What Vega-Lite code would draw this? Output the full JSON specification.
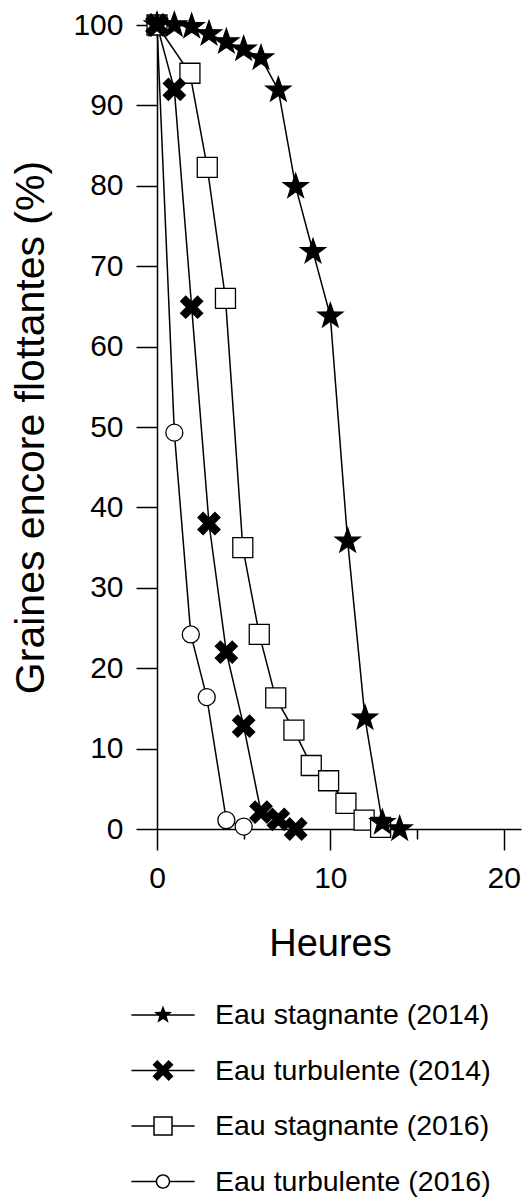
{
  "$schema": "https://vega.github.io/schema/vega-lite/v6.json",
  "autosize": {"type": "none"},
  "padding": {"left": 157, "top": 25, "right": 2, "bottom": 368},
  "width": 364,
  "height": 804,
  "background": "white",
  "config": {
    "view": {"stroke": null},
    "font": "Liberation Sans",
    "axis": {
      "domainColor": "black",
      "domainWidth": 1.5,
      "tickColor": "black",
      "tickWidth": 1.5,
      "labelColor": "black",
      "titleColor": "black",
      "grid": false,
      "labelFont": "Liberation Sans",
      "titleFont": "Liberation Sans",
      "titleFontWeight": "normal",
      "labelFontSize": 30
    }
  },
  "data": {
    "values": [
      {"serie": "Eau turbulente (2016)", "h": 0, "p": 100},
      {"serie": "Eau turbulente (2016)", "h": 1, "p": 49.3},
      {"serie": "Eau turbulente (2016)", "h": 1.95, "p": 24.2},
      {"serie": "Eau turbulente (2016)", "h": 2.87, "p": 16.4},
      {"serie": "Eau turbulente (2016)", "h": 4, "p": 1.1},
      {"serie": "Eau turbulente (2016)", "h": 5, "p": 0.3},
      {"serie": "Eau stagnante (2016)", "h": 0, "p": 100},
      {"serie": "Eau stagnante (2016)", "h": 1.9, "p": 94},
      {"serie": "Eau stagnante (2016)", "h": 2.9, "p": 82.3},
      {"serie": "Eau stagnante (2016)", "h": 3.95, "p": 66},
      {"serie": "Eau stagnante (2016)", "h": 4.95, "p": 35},
      {"serie": "Eau stagnante (2016)", "h": 5.9, "p": 24.2},
      {"serie": "Eau stagnante (2016)", "h": 6.85, "p": 16.3},
      {"serie": "Eau stagnante (2016)", "h": 7.9, "p": 12.3},
      {"serie": "Eau stagnante (2016)", "h": 8.9, "p": 7.9},
      {"serie": "Eau stagnante (2016)", "h": 9.9, "p": 6},
      {"serie": "Eau stagnante (2016)", "h": 10.9, "p": 3.2},
      {"serie": "Eau stagnante (2016)", "h": 11.95, "p": 1.1},
      {"serie": "Eau stagnante (2016)", "h": 12.9, "p": 0.2},
      {"serie": "Eau stagnante (2014)", "h": 0, "p": 100},
      {"serie": "Eau stagnante (2014)", "h": 1, "p": 100},
      {"serie": "Eau stagnante (2014)", "h": 2, "p": 99.8},
      {"serie": "Eau stagnante (2014)", "h": 3, "p": 98.9},
      {"serie": "Eau stagnante (2014)", "h": 4, "p": 97.9},
      {"serie": "Eau stagnante (2014)", "h": 5, "p": 97},
      {"serie": "Eau stagnante (2014)", "h": 6, "p": 95.9},
      {"serie": "Eau stagnante (2014)", "h": 7, "p": 91.9},
      {"serie": "Eau stagnante (2014)", "h": 8, "p": 79.9},
      {"serie": "Eau stagnante (2014)", "h": 9, "p": 71.8},
      {"serie": "Eau stagnante (2014)", "h": 10, "p": 63.8},
      {"serie": "Eau stagnante (2014)", "h": 11, "p": 35.8},
      {"serie": "Eau stagnante (2014)", "h": 12, "p": 13.8},
      {"serie": "Eau stagnante (2014)", "h": 13, "p": 0.8},
      {"serie": "Eau stagnante (2014)", "h": 14, "p": 0},
      {"serie": "Eau turbulente (2014)", "h": 0, "p": 100},
      {"serie": "Eau turbulente (2014)", "h": 1, "p": 92},
      {"serie": "Eau turbulente (2014)", "h": 2, "p": 64.9},
      {"serie": "Eau turbulente (2014)", "h": 3, "p": 38},
      {"serie": "Eau turbulente (2014)", "h": 4, "p": 22},
      {"serie": "Eau turbulente (2014)", "h": 5, "p": 12.8},
      {"serie": "Eau turbulente (2014)", "h": 6, "p": 2.1},
      {"serie": "Eau turbulente (2014)", "h": 7, "p": 1.2},
      {"serie": "Eau turbulente (2014)", "h": 8, "p": 0}
    ]
  },
  "encoding": {
    "x": {
      "field": "h",
      "type": "quantitative",
      "scale": {"domain": [0, 21], "nice": false, "zero": false},
      "axis": {
        "values": [0, 5, 10, 15, 20],
        "labelExpr": "datum.value % 10 === 0 ? datum.label : ''",
        "tickSize": {"condition": {"test": "datum.value % 10 !== 0", "value": 10}, "value": 21},
        "labelPadding": 13,
        "labelFlush": false,
        "title": "Heures",
        "titleFontSize": 38,
        "titleX": 173,
        "titleY": 126,
        "titleBaseline": "alphabetic",
        "titleAlign": "center"
      }
    },
    "y": {
      "field": "p",
      "type": "quantitative",
      "scale": {"domain": [0, 100], "nice": false},
      "axis": {
        "values": [0, 10, 20, 30, 40, 50, 60, 70, 80, 90, 100],
        "tickSize": 21,
        "labelPadding": 13,
        "labelFlush": false,
        "title": "Graines encore flottantes (%)",
        "titleFontSize": 41,
        "titleAngle": -90,
        "titleX": -114,
        "titleY": 402,
        "titleBaseline": "alphabetic",
        "titleAlign": "center"
      }
    }
  },
  "resolve": {"scale": {"shape": "independent"}},
  "layer": [
    {
      "mark": {"type": "line", "color": "black", "strokeWidth": 1.5},
      "encoding": {"detail": {"field": "serie"}}
    },
    {
      "mark": {"type": "point", "filled": true, "stroke": "black", "strokeWidth": 1.3, "opacity": 1, "size": 900},
      "encoding": {
        "shape": {
          "field": "serie",
          "type": "nominal",
          "scale": {
            "domain": ["Eau stagnante (2014)", "Eau turbulente (2014)", "Eau stagnante (2016)", "Eau turbulente (2016)"],
            "range": [
              "M0,-0.873L0.205,-0.283L0.83,-0.27L0.332,0.108L0.513,0.706L0,0.349L-0.513,0.706L-0.332,0.108L-0.83,-0.27L-0.205,-0.283Z",
              "M0.395,-0.733L0.733,-0.395L0.338,0L0.733,0.395L0.395,0.733L0,0.338L-0.395,0.733L-0.733,0.395L-0.338,0L-0.733,-0.395L-0.395,-0.733L0,-0.338Z",
              "M-0.667,-0.667H0.667V0.667H-0.667Z",
              "M-0.567,0A0.567,0.567,0,1,0,0.567,0A0.567,0.567,0,1,0,-0.567,0Z"
            ]
          },
          "legend": null
        },
        "fill": {
          "field": "serie",
          "type": "nominal",
          "scale": {
            "domain": ["Eau stagnante (2014)", "Eau turbulente (2014)", "Eau stagnante (2016)", "Eau turbulente (2016)"],
            "range": ["black", "black", "white", "white"]
          },
          "legend": null
        }
      }
    },
    {
      "transform": [{"filter": "datum.h < -1"}],
      "mark": {"type": "point", "filled": true, "color": "black", "opacity": 1, "size": 1600},
      "encoding": {
        "shape": {
          "field": "serie",
          "type": "nominal",
          "scale": {
            "domain": ["Eau stagnante (2014)", "Eau turbulente (2014)", "Eau stagnante (2016)", "Eau turbulente (2016)"],
            "range": [
              "M-1.58,-0.0375H1.58V0.0375H-1.58ZM0,-0.475L0.118,-0.162L0.452,-0.147L0.19,0.062L0.279,0.384L0,0.2L-0.279,0.384L-0.19,0.062L-0.452,-0.147L-0.118,-0.162Z",
              "M-1.58,-0.0375H1.58V0.0375H-1.58ZM0.283,-0.525L0.525,-0.283L0.242,0L0.525,0.283L0.283,0.525L0,0.242L-0.283,0.525L-0.525,0.283L-0.242,0L-0.525,-0.283L-0.283,-0.525L0,-0.242Z",
              "M-1.58,-0.0375H-0.4875V0.0375H-1.58ZM0.4875,-0.0375H1.58V0.0375H0.4875ZM-0.4875,-0.4875H0.4875V0.4875H-0.4875ZM-0.4125,-0.4125V0.4125H0.4125V-0.4125Z",
              "M-1.58,-0.0375H-0.3625V0.0375H-1.58ZM0.3625,-0.0375H1.58V0.0375H0.3625ZM-0.3625,0A0.3625,0.3625,0,1,1,0.3625,0A0.3625,0.3625,0,1,1,-0.3625,0ZM-0.2875,0A0.2875,0.2875,0,1,0,0.2875,0A0.2875,0.2875,0,1,0,-0.2875,0Z"
            ]
          },
          "legend": {
            "title": null,
            "orient": "none",
            "legendX": -14,
            "legendY": 970,
            "direction": "vertical",
            "padding": 0,
            "symbolSize": 1600,
            "symbolStrokeWidth": 0,
            "symbolFillColor": "black",
            "symbolOpacity": 1,
            "labelFont": "Liberation Sans",
            "labelFontSize": 28.5,
            "labelColor": "black",
            "labelOffset": 32,
            "labelLimit": 400,
            "rowPadding": 20.5
          }
        }
      }
    }
  ]
}
